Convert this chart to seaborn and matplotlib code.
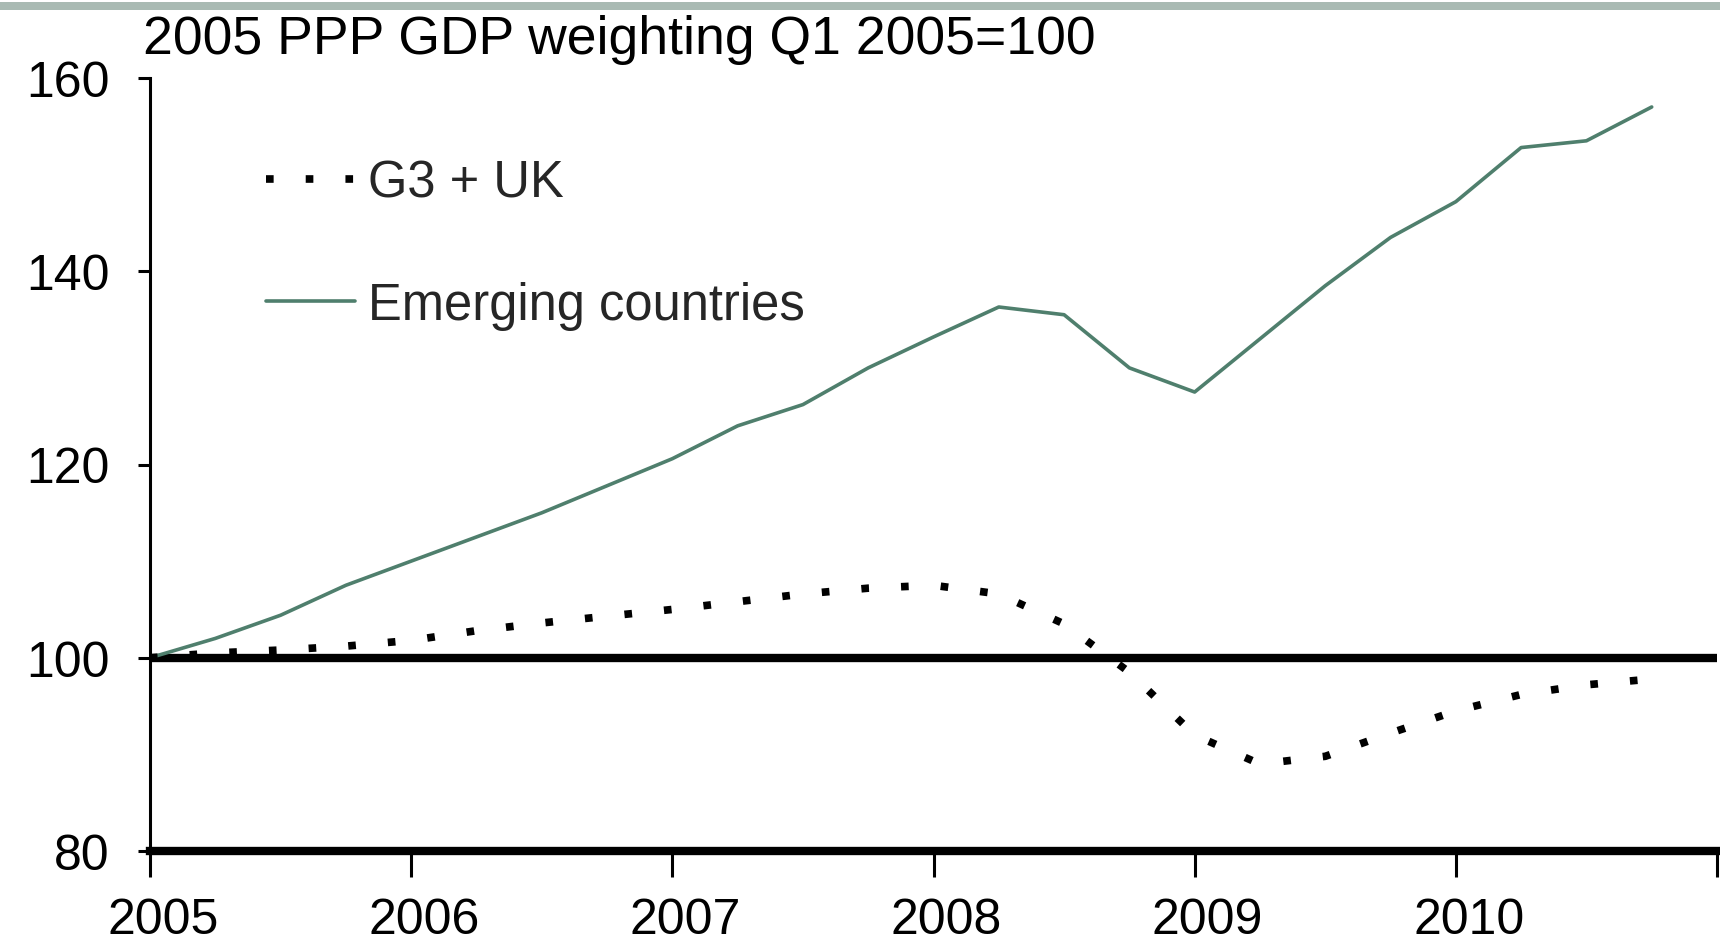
import matplotlib
matplotlib.use("Agg")
import matplotlib.pyplot as plt
import matplotlib.transforms as mtransforms
from matplotlib.patches import Rectangle
from matplotlib.lines import Line2D
import seaborn as sns
import pandas as pd

# Quarterly index values, Q1 2005 = 100
quarters = [2005 + 0.25 * k for k in range(24)]
g3_uk = [100.0, 100.5, 100.8, 101.2, 101.8, 102.8, 103.6, 104.3,
         105.0, 105.8, 106.6, 107.2, 107.5, 106.6, 103.5, 98.5,
         92.0, 89.0, 89.8, 92.2, 94.5, 96.2, 97.2, 97.8]
emerging = [100.0, 102.0, 104.4, 107.5, 110.0, 112.5, 115.0, 117.8,
            120.6, 124.0, 126.2, 130.0, 133.2, 136.3, 135.5, 130.0,
            127.5, 133.0, 138.5, 143.5, 147.2, 152.8, 153.5, 157.0]
year_ticks = [2005, 2006, 2007, 2008, 2009, 2010, 2011]
year_labels = ["2005", "2006", "2007", "2008", "2009", "2010", ""]
y_ticks = [80, 100, 120, 140, 160]

title = "2005 PPP GDP weighting Q1 2005=100"
series_names = ["G3 + UK", "Emerging countries"]

sns.set_style("white")
plt.rcParams["font.family"] = ["Liberation Sans", "DejaVu Sans"]

green = "#4f7f6d"
dot_style = (0, (1, 4.2))

df = pd.DataFrame({"quarter": quarters, "G3 + UK": g3_uk,
                   "Emerging countries": emerging})

W, H = 1720, 953
fig = plt.figure(figsize=(W / 100, H / 100), dpi=100)
fig.patch.set_facecolor("white")
ax = fig.add_axes([150 / W, 101 / H, (1717 - 150) / W, (852 - 79) / H])

sns.lineplot(data=df, x="quarter", y="Emerging countries", ax=ax,
             color=green, linewidth=2.6)
sns.lineplot(data=df, x="quarter", y="G3 + UK", ax=ax,
             color="black", linewidth=5.5, linestyle=dot_style)
for ln in ax.get_lines():
    ln.set_dash_capstyle("butt")

ax.axhline(100, color="black", linewidth=6.0, zorder=1)

ax.set_xlim(2005, 2011)
ax.set_ylim(80, 160)
ax.set_xticks(year_ticks)
ax.set_xticklabels(year_labels)
ax.set_yticks(y_ticks)
ax.set_xlabel("")
ax.set_ylabel("")

for side in ["top", "right"]:
    ax.spines[side].set_visible(False)
ax.spines["left"].set_linewidth(2.2)
ax.spines["left"].set_color("black")
ax.spines["bottom"].set_linewidth(6.0)
ax.spines["bottom"].set_color("black")

ax.tick_params(axis="x", direction="out", length=19, width=2.2,
               labelsize=36, pad=14, colors="black", bottom=True)
ax.tick_params(axis="y", direction="out", length=9, width=2.2,
               labelsize=36, pad=20, colors="black", left=True)

# year labels sit a little right of their tick marks
shift = mtransforms.ScaledTranslation(0.13, 0, fig.dpi_scale_trans)
for lab in ax.get_xticklabels():
    lab.set_horizontalalignment("center")
    lab.set_transform(lab.get_transform() + shift)

handles = [
    Line2D([], [], color="black", linewidth=5.5, linestyle=dot_style,
           dash_capstyle="butt"),
    Line2D([], [], color=green, linewidth=2.6),
]
leg = ax.legend(handles, series_names, loc="upper left",
                bbox_to_anchor=(0.045, 0.955), frameon=False,
                fontsize=36.5, handlelength=1.75, handletextpad=0.25,
                labelspacing=1.45)

fig.text(143 / W, 1 - 40 / H, title, fontsize=38.5, ha="left",
         va="center", color="black")

# thin rule across the top edge
fig.add_artist(Rectangle((0, 1 - 11 / H), 1, 8 / H,
                         transform=fig.transFigure, color="#a9bab3",
                         linewidth=0))

fig.savefig("out.png", dpi=100, facecolor="white")
